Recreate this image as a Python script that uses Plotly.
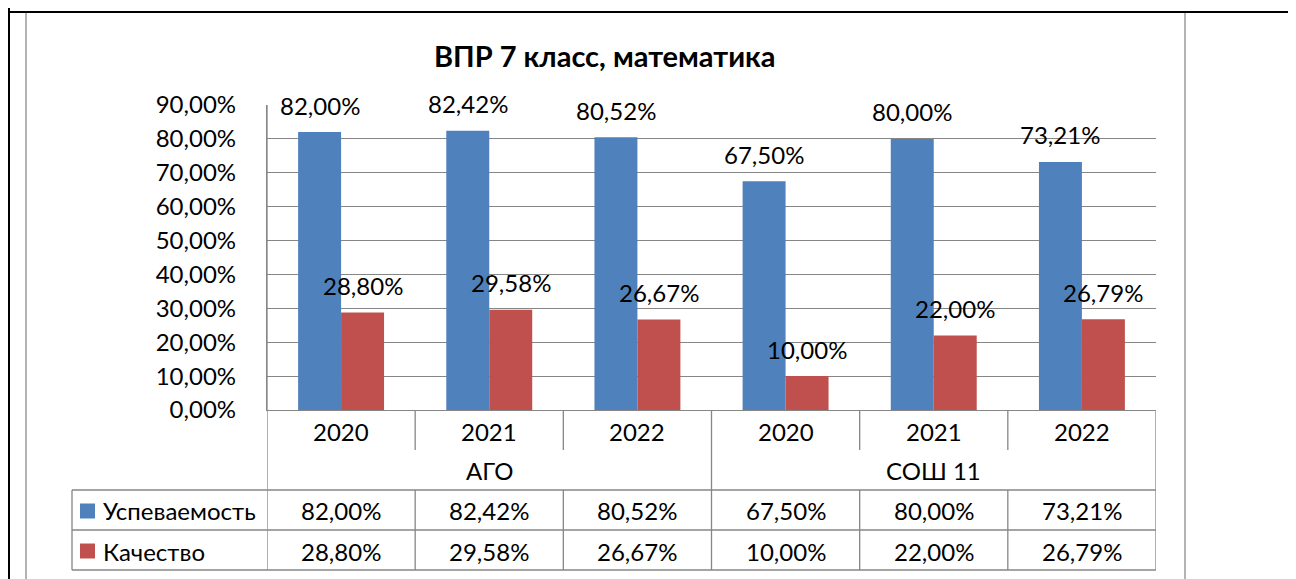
import plotly.graph_objects as go

# data
groups = ["АГО", "СОШ 11"]
years = ["2020", "2021", "2022", "2020", "2021", "2022"]
series_names = ["Успеваемость", "Качество"]
uspevaemost = [82.00, 82.42, 80.52, 67.50, 80.00, 73.21]
kachestvo = [28.80, 29.58, 26.67, 10.00, 22.00, 26.79]
y_ticks = [0, 10, 20, 30, 40, 50, 60, 70, 80, 90]

colors = ["#4F81BD", "#C0504D"]
line_gray = "#868686"
font_family = "Lato"
font_size = 24

# the page body has an 8px margin, so the figure is drawn 8px in from the corner
OFF = 8
W, H = 1296 - OFF, 579 - OFF
# plot area in screen pixels
L, R, T, B = 267, 1156, 105, 410


def fmt(v):
    return f"{v:.2f}".replace(".", ",") + "%"


def xp(px):  # screen pixel -> paper x
    return (px - L) / (R - L)


def yp(py):  # screen pixel -> paper y
    return (B - py) / (B - T)


x_idx = list(range(len(years)))
bargap = 0.42
bar_w = (1 - bargap) / 2

fig = go.Figure()
for name, vals, col in zip(series_names, [uspevaemost, kachestvo], colors):
    fig.add_trace(go.Bar(x=x_idx, y=vals, name=name, marker_color=col,
                         marker_line_width=0, showlegend=False))

annotations = []
shapes = []

# data labels above bars
for k, vals in enumerate([uspevaemost, kachestvo]):
    off = -bar_w / 2 if k == 0 else bar_w / 2
    for i, v in enumerate(vals):
        annotations.append(dict(x=i + off, y=v, xref="x", yref="y", text=fmt(v),
                                showarrow=False, yshift=27, yanchor="middle",
                                font=dict(size=font_size, color="black")))

# category row (years) and group row
for i, yr in enumerate(years):
    annotations.append(dict(x=i, y=yp(431), xref="x", yref="paper", text=yr,
                            showarrow=False, yanchor="middle",
                            font=dict(size=font_size, color="black")))
n_per = len(years) // len(groups)
for g, name in enumerate(groups):
    annotations.append(dict(x=g * n_per + (n_per - 1) / 2, y=yp(470), xref="x", yref="paper",
                            text=name, showarrow=False, yanchor="middle",
                            font=dict(size=font_size, color="black")))

# data table
row_y = [511, 551]
for k, (name, vals, col) in enumerate(zip(series_names, [uspevaemost, kachestvo], colors)):
    cy = row_y[k]
    shapes.append(dict(type="rect", xref="paper", yref="paper",
                       x0=xp(80), x1=xp(95), y0=yp(cy - 7.5), y1=yp(cy + 7.5),
                       fillcolor=col, line_width=0))
    annotations.append(dict(x=xp(101), y=yp(cy), xref="paper", yref="paper", text=name,
                            showarrow=False, xanchor="left", yanchor="middle",
                            font=dict(size=font_size, color="black")))
    for i, v in enumerate(vals):
        annotations.append(dict(x=i, y=yp(cy), xref="x", yref="paper", text=fmt(v),
                                showarrow=False, yanchor="middle",
                                font=dict(size=font_size, color="black")))


def vline_x(x, y0, y1):
    shapes.append(dict(type="line", xref="x", yref="paper", x0=x, x1=x,
                       y0=yp(y0), y1=yp(y1), line=dict(color=line_gray, width=1.3)))


def hline(x0px, x1, y):
    shapes.append(dict(type="line", xref="paper", yref="paper", x0=xp(x0px), x1=x1,
                       y0=yp(y), y1=yp(y), line=dict(color=line_gray, width=1.3)))


n = len(years)
for i in range(n + 1):
    x = i - 0.5
    if i == 0:
        vline_x(x, T, 570)
    elif i == n_per or i == n:
        vline_x(x, B, 570)
    else:
        vline_x(x, B, 450)
        vline_x(x, 490, 570)
for y in [490, 530, 570]:
    hline(72, 1.0, y)
shapes.append(dict(type="line", xref="paper", yref="paper", x0=xp(72), x1=xp(72),
                   y0=yp(490), y1=yp(570), line=dict(color=line_gray, width=1.3)))

# chart border and surrounding document frame
for xpix in [26, 1185]:
    shapes.append(dict(type="line", xref="paper", yref="paper", x0=xp(xpix), x1=xp(xpix),
                       y0=yp(12), y1=yp(590), line=dict(color="#9a9a9a", width=1.5)))
shapes.append(dict(type="line", xref="paper", yref="paper", x0=xp(8), x1=xp(1300),
                   y0=yp(12), y1=yp(12), line=dict(color="black", width=2)))
shapes.append(dict(type="line", xref="paper", yref="paper", x0=xp(9), x1=xp(9),
                   y0=yp(0), y1=yp(590), line=dict(color="black", width=2)))

# title
annotations.append(dict(x=xp(605), y=yp(55), xref="paper", yref="paper",
                        text="<b>ВПР 7 класс, математика</b>", showarrow=False,
                        yanchor="middle", font=dict(size=29, color="black")))

fig.update_layout(
    width=W, height=H,
    margin=dict(l=L - OFF, r=W - (R - OFF), t=T - OFF, b=H - (B - OFF)),
    paper_bgcolor="white", plot_bgcolor="white",
    font=dict(family=font_family, size=font_size, color="black"),
    barmode="group", bargap=bargap, bargroupgap=0,
    xaxis=dict(range=[-0.5, n - 0.5], showticklabels=False, showgrid=False,
               zeroline=False, showline=True, linecolor=line_gray, linewidth=1.3,
               fixedrange=True),
    yaxis=dict(range=[0, 90], tickvals=y_ticks, ticktext=[fmt(v) for v in y_ticks],
               showgrid=True, gridcolor=line_gray, gridwidth=1, zeroline=False,
               showline=True, linecolor=line_gray, linewidth=1.3,
               ticklabelstandoff=25, tickfont=dict(size=font_size, color="black"),
               fixedrange=True),
    shapes=shapes,
    annotations=annotations,
)

fig.write_html("out.html")
